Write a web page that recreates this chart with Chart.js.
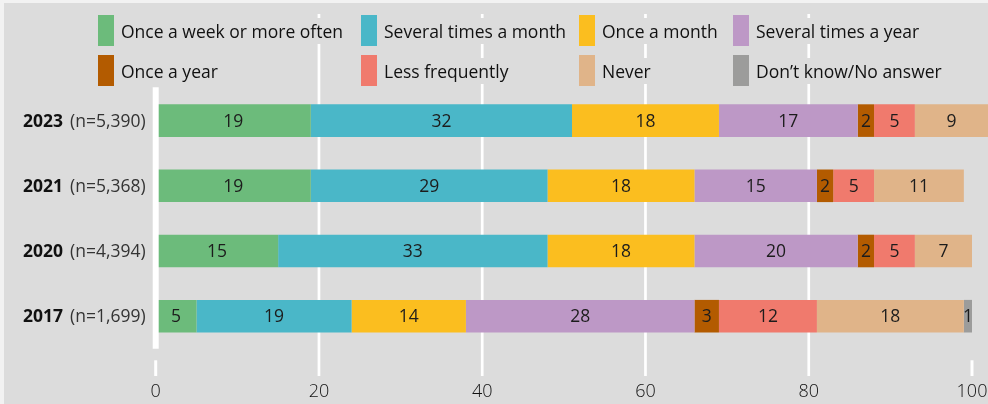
<!DOCTYPE html>
<html>
<head>
<meta charset="utf-8">
<script src="https://cdn.jsdelivr.net/npm/chart.js@4.4.0/dist/chart.umd.min.js"></script>
<style>
  html, body { margin: 0; padding: 0; background: #f2f2f2; }
  #wrap { position: relative; width: 988px; height: 404px; overflow: hidden; }
  #panel { position: absolute; left: 4px; top: 3px; right: 0; bottom: 0; background: #dcdcdc; }
  #chart { position: absolute; left: 0; top: 0; }
  #legend {
    position: absolute; left: 98px; top: 15px;
    display: grid; grid-template-columns: 263px 218px 154px 250px;
    grid-auto-rows: 31px; row-gap: 9px;
    font: 17.5px "Open Sans", sans-serif; color: #111;
  }
  .item { display: flex; align-items: center; }
  .box { width: 16px; height: 31px; flex: none; }
  .txt { margin-left: 7px; background: #dcdcdc; line-height: 26px; white-space: nowrap; }
</style>
</head>
<body>
<div id="wrap">
  <div id="panel"></div>
  <canvas id="chart" width="988" height="404"></canvas>
  <div id="legend"></div>
</div>
<script>
// survey years (top to bottom) and the sample size shown next to each
const CATEGORIES = ['2023', '2021', '2020', '2017'];
const SAMPLE_SIZES = ['5,390', '5,368', '4,394', '1,699'];

const SERIES_LABELS = [
  'Once a week or more often', 'Several times a month', 'Once a month', 'Several times a year',
  'Once a year', 'Less frequently', 'Never', 'Don\u2019t know/No answer',
];

// shares in %, one value per year in CATEGORIES order
const WEEKLY = [19, 19, 15, 5];
const MONTH_SEVERAL = [32, 29, 33, 19];
const MONTH_ONCE = [18, 18, 18, 14];
const YEAR_SEVERAL = [17, 15, 20, 28];
const YEAR_ONCE = [2, 2, 2, 3];
const LESS_OFTEN = [5, 5, 5, 12];
const NEVER = [9, 11, 7, 18];
const DONT_KNOW = [0, 0, 0, 1];

const X_TICKS = [0, 20, 40, 60, 80, 100];

const COLORS = ['#6cbb7b', '#4ab7c8', '#fbbe1f', '#bd98c6', '#b35b00', '#f07a6d', '#e0b489', '#9c9c9b'];
const FONT = '"Open Sans", sans-serif';

const SERIES = [WEEKLY, MONTH_SEVERAL, MONTH_ONCE, YEAR_SEVERAL, YEAR_ONCE, LESS_OFTEN, NEVER, DONT_KNOW];

// white grid lines sit behind the bars and run up through the legend area
const gridLines = {
  id: 'gridLines',
  beforeDatasetsDraw(chart) {
    const { ctx, scales: { x }, chartArea } = chart;
    ctx.save();
    ctx.strokeStyle = '#ffffff';
    X_TICKS.forEach(v => {
      const px = x.getPixelForValue(v);
      ctx.beginPath();
      if (v === 0 || v === 100) {
        ctx.lineWidth = 3;
        ctx.moveTo(px, chartArea.bottom + 11.5);
      } else {
        ctx.lineWidth = 2.7;
        ctx.moveTo(px, 14);
      }
      ctx.lineTo(px, chartArea.bottom + 27.2);
      ctx.stroke();
    });
    ctx.restore();
  }
};

// thick zero line on top of the bars, then the numbers inside each segment
const barExtras = {
  id: 'barExtras',
  afterDatasetsDraw(chart) {
    const { ctx, scales: { x }, chartArea } = chart;
    ctx.save();
    ctx.strokeStyle = '#ffffff';
    ctx.lineWidth = 6;
    const x0 = x.getPixelForValue(0);
    ctx.beginPath();
    ctx.moveTo(x0, chartArea.top - 0.7);
    ctx.lineTo(x0, chartArea.bottom);
    ctx.stroke();

    ctx.fillStyle = '#1c1c1c';
    ctx.font = '17.5px ' + FONT;
    ctx.textAlign = 'center';
    ctx.textBaseline = 'middle';
    chart.data.datasets.forEach((ds, i) => {
      chart.getDatasetMeta(i).data.forEach((bar, j) => {
        const v = ds.data[j];
        if (!v) return;
        const p = bar.getProps(['x', 'base', 'y'], true);
        ctx.fillText(String(v), (p.x + p.base) / 2, p.y + 1);
      });
    });
    ctx.restore();
  },
  afterDraw(chart) {
    const { ctx, scales: { x, y } } = chart;
    const right = x.getPixelForValue(0) - 10;
    ctx.save();
    ctx.textBaseline = 'middle';
    ctx.textAlign = 'right';
    CATEGORIES.forEach((year, j) => {
      const py = y.getPixelForValue(j) + 1;
      const nText = '(n=' + SAMPLE_SIZES[j] + ')';
      ctx.font = '17.5px ' + FONT;
      ctx.fillStyle = '#333333';
      ctx.fillText(nText, right, py);
      const w = ctx.measureText(nText).width;
      ctx.font = 'bold 17.5px ' + FONT;
      ctx.fillStyle = '#111111';
      ctx.fillText(year, right - w - 7, py);
    });
    ctx.restore();
  }
};

const chart = new Chart(document.getElementById('chart'), {
  type: 'bar',
  data: {
    labels: CATEGORIES,
    datasets: SERIES.map((data, i) => ({
      label: SERIES_LABELS[i],
      data,
      backgroundColor: COLORS[i],
      borderWidth: 0,
      categoryPercentage: 1,
      barPercentage: 0.5,
      clip: false,
    })),
  },
  options: {
    indexAxis: 'y',
    responsive: false,
    animation: false,
    layout: { padding: { left: 155.7, right: 16, top: 88, bottom: 0 } },
    plugins: { legend: { display: false }, tooltip: { enabled: false } },
    scales: {
      x: {
        type: 'linear', stacked: true, min: 0, max: 100,
        grid: { display: false, drawTicks: false },
        border: { display: false },
        ticks: {
          stepSize: 20, padding: 32.4, color: '#111111',
          font: { family: FONT, size: 18, weight: '300' },
        },
        afterFit(scale) {
          scale.height = 55.2;
          scale.paddingLeft = 0;
          scale.paddingRight = 0;
        },
      },
      y: { stacked: true, display: false },
    },
  },
  plugins: [gridLines, barExtras],
});

// legend built from the chart's own datasets, laid out in 4 fixed columns
document.getElementById('legend').innerHTML = chart.data.datasets.map(ds => `
  <div class="item"><span class="box" style="background:${ds.backgroundColor}"></span><span class="txt">${ds.label}</span></div>
`).join('');
</script>
</body>
</html>
